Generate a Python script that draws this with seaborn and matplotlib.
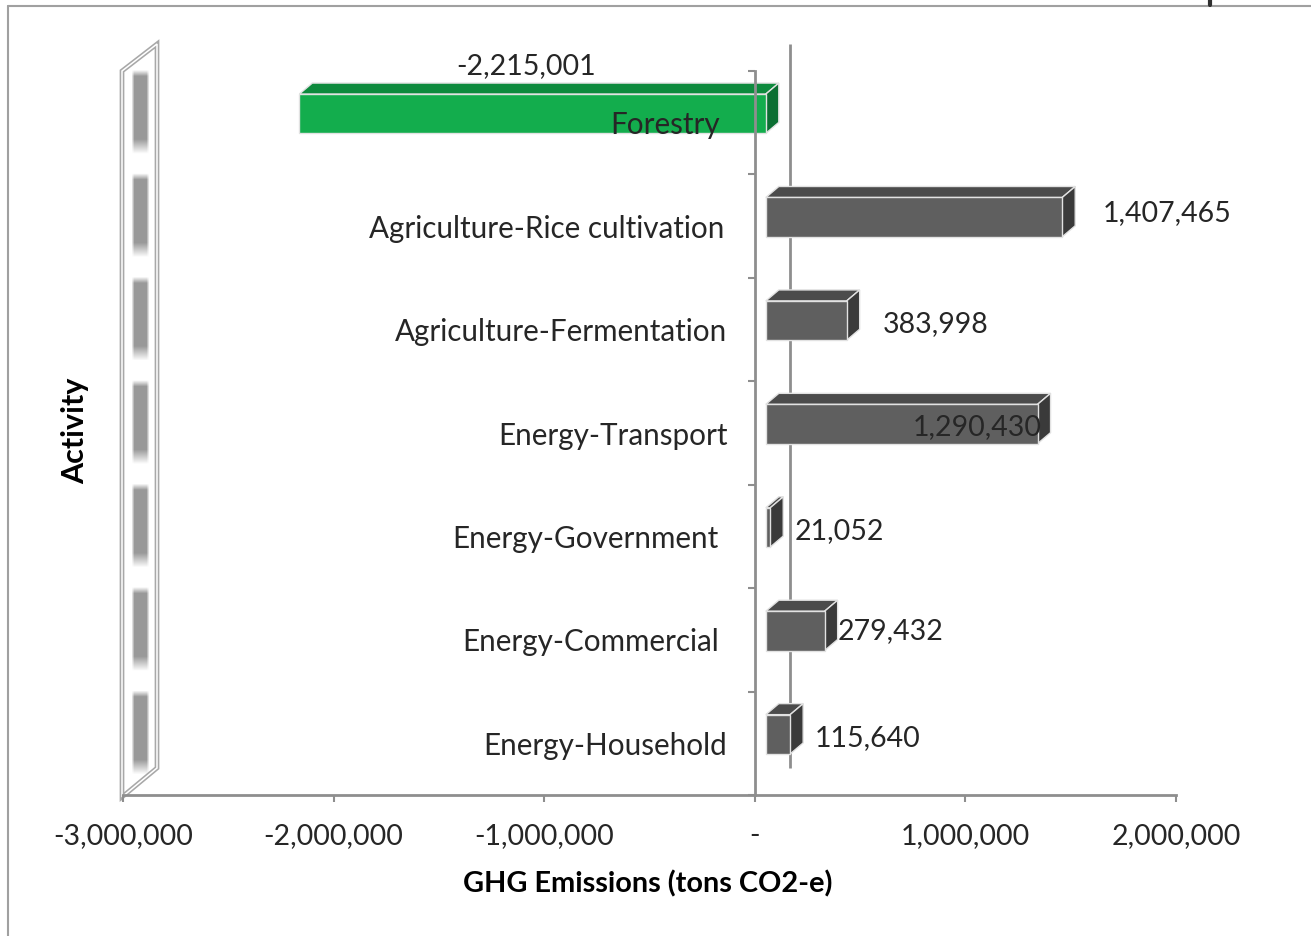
import numpy as np
import pandas as pd
import matplotlib
matplotlib.use("Agg")
import matplotlib.pyplot as plt
from matplotlib.patches import Polygon
from matplotlib.transforms import ScaledTranslation, IdentityTransform
from matplotlib.ticker import FuncFormatter, FixedLocator
import seaborn as sns

# ---- data -------------------------------------------------------------
activities = ["Forestry", "Agriculture-Rice cultivation", "Agriculture-Fermentation",
              "Energy-Transport", "Energy-Government", "Energy-Commercial",
              "Energy-Household"]
emissions = [-2215001, 1407465, 383998, 1290430, 21052, 279432, 115640]
x_ticks = [-3000000, -2000000, -1000000, 0, 1000000, 2000000]

# ---- styling ----------------------------------------------------------
W, H, DPI = 1311, 936, 100
sink_front, sink_top, sink_side = "#13AD4D", "#0D8A3D", "#0B6E32"
src_front, src_top, src_side = "#5F5F5F", "#4B4B4B", "#3A3A3A"
axis_gray = "#8E8E8E"
text_dark = "#262626"
FS_NUM = 20.5
FS_CAT = 21.3
FS_TITLE = 20.8

sns.set_theme(style="white")
plt.rcParams["font.family"] = ["Lato", "DejaVu Sans"]

fig = plt.figure(figsize=(W / DPI, H / DPI), dpi=DPI, facecolor="white")

# background layer in pixel coordinates (frame, walls, back gridline)
deco = fig.add_axes([0, 0, 1, 1])
deco.set_xlim(0, W)
deco.set_ylim(0, H)
deco.axis("off")

ax = fig.add_axes([123 / W, (H - 795) / H, (1176 - 123) / W, (795 - 71) / H])
ax.set_facecolor("none")

df = pd.DataFrame({"activity": activities, "emissions": emissions})
colors = [sink_front if v < 0 else src_front for v in emissions]
sns.barplot(data=df, x="emissions", y="activity", hue="activity", palette=colors,
            legend=False, orient="h", width=0.38, saturation=1, errorbar=None, ax=ax)

ax.set_xlim(x_ticks[0], x_ticks[-1])
ax.set_ylim(len(activities) - 0.5, -0.5)
ax.set_xlabel("")
ax.set_ylabel("")

# perspective offsets (pixels): bar front plane, bar depth, back plane
def px(dx, dy):
    return ScaledTranslation(dx / DPI, dy / DPI, fig.dpi_scale_trans)

FRONT_DX, FRONT_DY = 11, 9
DEPTH_DX, DEPTH_DY = 13, 11
BACK_DX, BACK_DY = 35, 27

front_tr = ax.transData + px(FRONT_DX, FRONT_DY)

for patch, val in zip(ax.patches, emissions):
    top_c, side_c = (sink_top, sink_side) if val < 0 else (src_top, src_side)
    patch.set_transform(front_tr)
    patch.set_edgecolor("#E2E2E2")
    patch.set_linewidth(1.0)
    patch.set_zorder(3)
    x0, y0 = patch.get_x(), patch.get_y()
    x1, y1 = x0 + patch.get_width(), y0 + patch.get_height()
    (ax0, ay0), (ax1, ay1) = front_tr.transform([(x0, y0), (x1, y1)])
    l, r = min(ax0, ax1), max(ax0, ax1)
    t, b = max(ay0, ay1), min(ay0, ay1)
    top_face = [(l, t), (r, t), (r + DEPTH_DX, t + DEPTH_DY), (l + DEPTH_DX, t + DEPTH_DY)]
    side_face = [(r, b), (r, t), (r + DEPTH_DX, t + DEPTH_DY), (r + DEPTH_DX, b + DEPTH_DY)]
    for poly, c in ((top_face, top_c), (side_face, side_c)):
        ax.add_patch(Polygon(poly, closed=True, facecolor=c, edgecolor="#E2E2E2",
                             linewidth=1.0, transform=IdentityTransform(),
                             clip_on=False, zorder=2.9))

# axes lines and ticks
for side in ("top", "right"):
    ax.spines[side].set_visible(False)
ax.spines["left"].set_position(("data", 0))
for side in ("left", "bottom"):
    ax.spines[side].set_color(axis_gray)
    ax.spines[side].set_linewidth(2)
    ax.spines[side].set_zorder(5)

ax.xaxis.set_major_locator(FixedLocator(x_ticks))
ax.xaxis.set_major_formatter(FuncFormatter(lambda v, _: "-" if v == 0 else f"{v:,.0f}"))
ax.tick_params(axis="x", bottom=True, length=5, width=1.5, color=axis_gray,
               labelsize=FS_NUM, labelcolor=text_dark, pad=15.5)
ax.set_yticks(np.arange(-0.5, len(activities), 1.0))
ax.set_yticklabels([])
ax.tick_params(axis="y", left=True, length=5, width=1.5, color=axis_gray)

# category names next to the front axis
name_gaps = [35, 30, 28, 27, 36, 36, 28]
for i, (name, gap) in enumerate(zip(activities, name_gaps)):
    ax.text(0, i, name, transform=ax.transData + px(-gap, 0), ha="right",
            va="center_baseline", fontsize=FS_CAT, color=text_dark, zorder=6)

# value labels (pixel offsets from each bar end)
label_offsets = [(168, 59), (52, 16), (47, 8), (-114, 8), (35, 8), (24, 11), (36, 8)]
for i, (val, (dx, dy)) in enumerate(zip(emissions, label_offsets)):
    ax.text(val, i, f"{val:,}", transform=ax.transData + px(dx, dy), ha="left",
            va="center_baseline", fontsize=FS_NUM, color=text_dark, zorder=6)

# axis titles
fig.text(648 / W, 1 - 884 / H, "GHG Emissions (tons CO2-e)", ha="center",
         va="center", fontsize=FS_TITLE, fontweight="bold", color="black")
fig.text(75 / W, 1 - 431 / H, "Activity", ha="center", va="center", rotation=90,
         fontsize=22, fontweight="bold", color="black")

# back-plane zero line
(zx, zy_bot), (_, zy_top) = ax.transData.transform([(0, len(activities) - 0.5), (0, -0.5)])
deco.plot([zx + BACK_DX] * 2, [zy_bot + BACK_DY, zy_top + BACK_DY], color=axis_gray,
          lw=2, solid_capstyle="butt")

# left side wall
(wx, wy_bot), (_, wy_top) = ax.transData.transform([(x_ticks[0], len(activities) - 0.5),
                                                    (x_ticks[0], -0.5)])
wx -= 1
wall = [(wx, wy_bot - 2), (wx, wy_top), (wx + BACK_DX, wy_top + BACK_DY),
        (wx + BACK_DX, wy_bot + BACK_DY)]
wall_patch = Polygon(wall, closed=True, facecolor="white", edgecolor="#A8A8A8",
                     linewidth=3.4, zorder=1)
deco.add_patch(wall_patch)
deco.add_patch(Polygon(wall, closed=True, facecolor="none", edgecolor="white",
                       linewidth=1.1, zorder=3))

# soft shaded bands on the wall, one per category
gx = np.arange(int(wx) - 2, int(wx + BACK_DX) + 3)
gy = np.arange(int(wy_bot) - 4, int(wy_top + BACK_DY) + 3)
GX, GY = np.meshgrid(gx + 0.5, gy + 0.5)
mid = wx + BACK_DX / 2 + 1
hx = np.clip(1 - (np.abs(GX - mid) - 6) / 3, 0, 1)
step = (wy_top - wy_bot) / len(activities)
rel = ((wy_top + BACK_DY / 2) - GY) / step
frac = rel - np.floor(rel)
vy = np.clip(np.minimum((frac - 0.12) / 0.06, (0.93 - frac) / 0.14), 0, 1)
vy[(rel < 0) | (rel > len(activities))] = 0
alpha = hx * vy
rgba = np.zeros(GX.shape + (4,))
rgba[..., :3] = 0.60
rgba[..., 3] = alpha
img = deco.imshow(rgba, extent=(gx[0], gx[-1] + 1, gy[0], gy[-1] + 1), origin="lower",
                  interpolation="bilinear", zorder=2, aspect="auto")
img.set_clip_path(wall_patch)
deco.set_xlim(0, W)
deco.set_ylim(0, H)

# outer frame
deco.plot([8, 8], [0, H - 6], color="#A0A0A0", lw=1.5)
deco.plot([8, W], [H - 6, H - 6], color="#A0A0A0", lw=1.5)
deco.plot([1210, 1210], [H - 5, H], color="#303030", lw=3)

fig.savefig("out.png", dpi=DPI, facecolor="white")
